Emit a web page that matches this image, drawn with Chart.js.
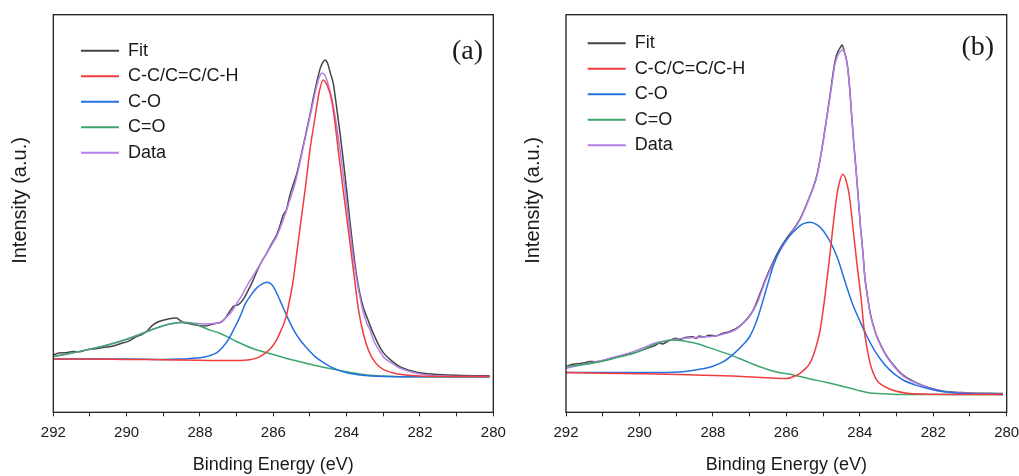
<!DOCTYPE html>
<html><head><meta charset="utf-8">
<script src="https://cdn.jsdelivr.net/npm/chart.js@4.4.0/dist/chart.umd.min.js"></script>
<style>
html,body{margin:0;padding:0;background:#fff;}
#wrap{position:relative;width:1019px;height:476px;overflow:hidden;background:#fff;}
#ca{position:absolute;left:0;top:0;}
#cb{position:absolute;left:510px;top:0;}
</style></head><body>
<div id="wrap"><canvas id="ca" width="510" height="476"></canvas><canvas id="cb" width="509" height="476"></canvas></div>
<script>
// ---- labels ----
const seriesLabels = ['Fit', 'C-C/C=C/C-H', 'C-O', 'C=O', 'Data'];
const panelLabels = ['(a)', '(b)'];
const xTickLabels = [292, 290, 288, 286, 284, 282, 280];
const xTitle = 'Binding Energy (eV)';
const yTitle = 'Intensity (a.u.)';

// ---- panel (a) ----
const aFitE = [292.0,291.85,291.65,291.45,291.28,291.1,290.9,290.64,290.4,290.19,289.95,289.74,289.6,289.46,289.28,289.1,288.95,288.8,288.65,288.55,288.45,288.3,288.15,288.0,287.85,287.7,287.55,287.42,287.3,287.18,287.08,286.95,286.82,286.7,286.58,286.45,286.3,286.18,286.05,285.91,285.8,285.73,285.64,285.55,285.45,285.36,285.27,285.18,285.09,285.0,284.91,284.82,284.72,284.65,284.59,284.52,284.45,284.36,284.27,284.18,284.09,284.0,283.91,283.82,283.73,283.64,283.55,283.45,283.36,283.27,283.13,283.0,282.78,282.55,282.3,282.09,281.8,281.5,281.0,280.5,280.1];
const aFitI = [14.4,14.9,15.0,15.3,15.2,15.7,15.9,16.3,16.6,17.2,17.9,19.0,19.5,20.3,22.0,22.9,23.3,23.6,23.7,23.2,22.6,22.3,22.0,21.8,21.7,22.1,22.4,22.7,23.8,25.5,26.7,27.1,28.4,30.4,32.6,35.4,38.2,40.0,42.3,44.6,47.5,49.6,51.0,54.5,57.5,60.0,63.5,67.2,71.0,74.8,79.0,82.8,86.5,88.0,88.6,87.8,85.5,82.5,76.5,70.2,63.3,55.9,48.0,40.8,34.5,29.9,26.5,24.0,21.8,19.8,17.0,15.0,13.0,11.5,10.6,10.1,9.7,9.5,9.3,9.2,9.2];

const aCCE = [292.0,291.0,290.0,289.0,288.0,287.5,287.0,286.64,286.4,286.23,286.05,285.91,285.78,285.65,285.56,285.47,285.35,285.23,285.11,285.0,284.86,284.75,284.64,284.52,284.41,284.32,284.23,284.12,284.0,283.88,283.77,283.68,283.55,283.4,283.2,283.0,282.7,282.3,281.5,280.1];
const aCCI = [13.4,13.4,13.3,13.2,13.1,13.0,13.0,13.2,13.8,14.8,16.3,18.2,20.8,24.0,28.0,32.4,40.8,49.2,57.6,66.0,74.3,80.5,83.6,82.0,78.5,73.0,66.0,57.8,49.2,40.5,32.4,26.0,20.0,15.5,12.3,10.8,9.8,9.3,9.0,9.0];

const aCOE = [292.0,290.0,289.0,288.5,288.0,287.75,287.54,287.4,287.23,287.07,286.91,286.75,286.6,286.45,286.3,286.18,286.05,285.95,285.82,285.62,285.45,285.27,285.05,284.86,284.65,284.45,284.09,283.64,283.0,282.0,280.1];
const aCOI = [13.4,13.4,13.3,13.4,13.7,14.2,15.0,16.2,18.2,21.0,24.0,27.5,29.6,31.3,32.3,32.7,32.2,30.8,28.2,24.0,20.8,18.2,15.8,14.0,12.6,11.5,10.2,9.4,9.0,8.95,8.95];

const aCdOE = [292.0,291.5,291.1,290.64,290.19,289.74,289.28,288.83,288.55,288.37,288.15,287.92,287.7,287.46,287.23,287.0,286.55,286.18,285.73,285.27,284.82,284.36,283.9,283.45,283.0,282.5,281.0,280.1];
const aCdOI = [14.0,14.9,15.7,16.6,17.8,19.2,20.9,22.2,22.6,22.6,22.2,21.4,20.6,19.9,18.9,17.8,16.0,15.0,13.8,12.7,11.7,10.8,10.0,9.4,9.1,8.95,8.95,8.95];

const aDataE = [292.0,291.55,291.1,290.64,290.19,289.74,289.28,288.83,288.55,288.37,288.15,287.92,287.7,287.46,287.27,287.1,287.0,286.85,286.73,286.6,286.45,286.32,286.18,286.05,285.91,285.82,285.73,285.64,285.55,285.45,285.36,285.27,285.18,285.09,285.0,284.91,284.82,284.75,284.68,284.61,284.54,284.45,284.36,284.27,284.18,284.09,284.0,283.91,283.82,283.73,283.64,283.55,283.45,283.36,283.27,283.13,283.0,282.78,282.55,282.3,282.09,281.64,281.0,280.1];
const aDataI = [14.0,14.8,15.7,16.7,17.8,19.3,20.9,22.2,22.6,22.6,22.4,22.2,22.3,22.6,24.0,25.8,27.4,29.5,31.6,33.6,35.8,37.8,40.0,42.0,44.2,46.2,48.4,50.8,53.4,56.2,59.3,63.0,66.8,70.6,74.3,78.2,81.9,84.2,85.3,85.0,83.6,80.6,76.9,71.8,66.0,59.5,52.6,45.8,39.1,33.6,29.1,25.4,22.4,20.7,18.2,15.8,14.0,12.4,11.1,10.3,9.8,9.2,9.0,9.0];

// ---- panel (b) ----
const bFitE = [292.0,291.85,291.71,291.46,291.35,291.2,290.91,290.7,290.55,290.36,290.19,289.91,289.7,289.55,289.46,289.37,289.2,289.0,288.9,288.75,288.55,288.45,288.37,288.25,288.1,287.92,287.73,287.55,287.4,287.28,287.15,287.01,286.88,286.72,286.55,286.35,286.17,285.99,285.81,285.63,285.5,285.36,285.26,285.17,285.08,284.99,284.9,284.81,284.74,284.67,284.6,284.54,284.48,284.42,284.35,284.3,284.26,284.18,284.08,283.99,283.92,283.86,283.79,283.72,283.63,283.54,283.4,283.27,283.1,282.9,282.7,282.45,282.09,281.73,281.3,280.82,280.5,280.1];
const bFitI = [11.5,12.0,12.2,12.5,12.8,12.7,13.2,13.8,14.0,14.6,14.8,15.7,16.4,16.9,17.4,17.2,18.0,18.6,18.3,18.8,19.0,18.6,19.2,18.9,19.4,19.2,19.9,20.3,20.9,21.6,22.7,24.2,26.1,29.8,33.9,38.0,41.2,43.8,46.0,48.6,51.2,54.4,56.8,59.6,63.7,68.7,74.2,79.8,84.5,88.5,90.6,91.6,92.4,90.6,88.0,84.2,79.6,69.5,58.6,47.7,40.7,33.8,29.2,25.1,21.8,19.2,16.4,14.2,12.1,10.0,8.6,7.4,6.1,5.3,5.0,4.8,4.8,4.7];

const bCCE = [292.0,291.0,290.0,289.28,288.5,287.46,286.55,286.0,285.8,285.63,285.5,285.36,285.27,285.19,285.08,284.95,284.84,284.74,284.63,284.55,284.46,284.38,284.28,284.18,284.08,283.97,283.88,283.8,283.72,283.63,283.54,283.4,283.22,283.0,282.7,282.3,281.5,280.1];
const bCCI = [10.0,9.8,9.7,9.6,9.4,9.1,8.7,8.5,9.0,9.8,10.8,12.3,14.2,16.5,20.7,29.1,37.5,45.9,54.2,58.0,59.9,58.5,54.2,45.9,37.5,29.1,20.7,16.0,12.3,9.8,8.1,6.9,6.0,5.3,4.8,4.6,4.5,4.5];

const bCOE = [292.0,291.0,290.0,289.28,288.82,288.37,288.0,287.7,287.46,287.2,287.0,286.85,286.72,286.53,286.35,286.13,285.93,285.72,285.55,285.36,285.17,284.99,284.8,284.6,284.4,284.2,284.0,283.8,283.6,283.4,283.2,283.0,282.8,282.5,282.2,281.8,281.3,280.8,280.1];
const bCOI = [10.0,10.0,10.0,10.0,10.2,10.8,11.6,12.8,14.5,16.8,19.0,22.0,25.5,31.5,37.0,41.7,44.2,46.2,47.4,47.8,47.2,45.6,42.8,38.6,32.8,27.3,23.0,19.0,15.6,12.9,10.8,9.2,8.0,6.9,6.1,5.3,4.8,4.6,4.5];

const bCdOE = [292.0,291.5,291.09,290.64,290.19,289.85,289.55,289.3,289.1,288.82,288.6,288.37,288.15,287.92,287.46,287.01,286.55,286.2,285.81,285.35,284.9,284.45,284.2,284.0,283.8,283.5,283.0,282.0,280.1];
const bCdOI = [11.5,12.0,12.7,13.7,14.8,16.0,17.2,17.9,18.2,18.0,17.6,17.1,16.4,15.7,14.2,12.5,10.9,10.0,9.4,8.4,7.5,6.5,5.9,5.4,5.0,4.7,4.5,4.5,4.5];

const bDataE = [292.0,291.55,291.09,290.64,290.19,289.85,289.55,289.28,289.0,288.7,288.37,288.15,287.92,287.75,287.55,287.4,287.28,287.15,287.01,286.88,286.78,286.72,286.55,286.35,286.17,285.99,285.81,285.63,285.5,285.36,285.26,285.17,285.08,284.99,284.9,284.81,284.74,284.67,284.6,284.54,284.46,284.4,284.35,284.3,284.26,284.18,284.08,283.99,283.92,283.86,283.79,283.72,283.63,283.54,283.4,283.27,283.1,282.9,282.7,282.45,282.09,281.73,281.3,280.82,280.1];
const bDataI = [11.1,12.0,12.9,14.0,15.2,16.4,17.5,18.0,18.4,18.7,18.9,19.0,19.2,19.6,20.1,20.7,21.5,22.6,24.0,25.9,27.8,29.3,33.5,37.5,40.6,43.3,45.8,48.4,51.0,54.2,56.6,59.3,63.5,68.5,74.0,79.4,83.8,87.8,89.8,90.7,91.1,90.0,87.8,84.0,79.4,69.3,58.4,47.5,40.5,33.6,29.0,24.9,21.6,19.0,16.2,14.0,11.9,9.8,8.4,7.3,6.0,5.2,4.9,4.7,4.5];

// ---- styling ----
const FONT = 'Arial, "Liberation Sans", sans-serif';
const SERIF = '"Times New Roman", "Liberation Serif", serif';
const TXT = '#1a1a1a';
const colors = ['#454545', '#f03c3c', '#2470e0', '#3da56d', '#b57de8'];
const drawOrder = [4, 0, 1, 2, 3];

function pts(E, I) { return E.map((x, i) => ({x: x, y: I[i]})); }

const framePlugin = {
  id: 'frameAndText',
  afterDraw(chart, args, o) {
    const ctx = chart.ctx, a = chart.chartArea;
    ctx.save();
    ctx.strokeStyle = '#1e1e1e';
    ctx.lineWidth = 1.3;
    ctx.strokeRect(a.left, a.top, a.right - a.left, a.bottom - a.top);
    ctx.fillStyle = TXT;
    ctx.textAlign = 'center';
    ctx.textBaseline = 'middle';
    ctx.font = '28px ' + SERIF;
    ctx.fillText(o.panel, o.panelX, o.panelY);
    ctx.translate(o.yTitleX, o.yTitleY);
    ctx.rotate(-Math.PI / 2);
    ctx.font = '20px ' + FONT;
    ctx.fillText(o.yTitle, 0, 0);
    ctx.restore();
  }
};

const legendPlace = {
  id: 'legendPlace',
  afterLayout(chart, args, o) {
    const lg = chart.legend;
    if (!lg) return;
    lg.left = o.left; lg.top = o.top;
    lg.right = o.left + 380; lg.bottom = o.top + 300;
    lg.width = 380; lg.height = 300;
  }
};

function makeChart(id, sets, cfg) {
  const datasets = sets.map((s, i) => ({
    label: seriesLabels[i],
    data: pts(s[0], s[1]),
    borderColor: colors[i],
    backgroundColor: colors[i],
    borderWidth: 1.5,
    pointRadius: 0,
    fill: false,
    order: drawOrder[i],
    cubicInterpolationMode: 'monotone'
  }));
  return new Chart(document.getElementById(id), {
    type: 'line',
    data: {datasets: datasets},
    plugins: [framePlugin, legendPlace],
    options: {
      responsive: false,
      animation: false,
      events: [],
      layout: {padding: {top: cfg.top, right: cfg.right, left: 0, bottom: 0}},
      scales: {
        x: {
          type: 'linear', min: 280, max: 292, reverse: true,
          afterFit(s) { s.height = cfg.xh; s.paddingLeft = 0; s.paddingRight = 0; },
          ticks: {
            stepSize: 1, autoSkip: false, maxRotation: 0, minRotation: 0, padding: 8,
            color: TXT, font: {family: FONT, size: 15},
            callback: (v) => xTickLabels.includes(v) ? String(v) : ''
          },
          grid: {display: true, drawOnChartArea: false, drawTicks: true, tickLength: 4, color: '#222', lineWidth: 1},
          border: {display: false},
          title: {display: true, text: xTitle, color: TXT, font: {family: FONT, size: 18}, padding: {top: 0, bottom: 0}}
        },
        y: {
          type: 'linear', min: 0, max: 100,
          afterFit(s) { s.width = cfg.yw; s.paddingTop = 0; s.paddingBottom = 0; },
          ticks: {display: false},
          grid: {display: false},
          border: {display: false},
          title: {display: false}
        }
      },
      plugins: {
        tooltip: {enabled: false},
        legend: {
          display: true, position: 'chartArea', align: 'start',
          labels: {
            boxWidth: 38, boxHeight: 2, padding: 7.5, color: TXT,
            font: {family: FONT, size: 18},
            generateLabels(chart) {
              return chart.data.datasets.map((d, i) => ({
                text: d.label, fillStyle: d.borderColor, strokeStyle: d.borderColor,
                lineWidth: 0, hidden: false, datasetIndex: i, fontColor: TXT
              }));
            }
          }
        },
        legendPlace: {left: cfg.legL, top: cfg.legT},
        frameAndText: {panel: cfg.panel, panelX: cfg.px, panelY: cfg.py, yTitle: yTitle, yTitleX: cfg.ytx, yTitleY: 200.5}
      }
    }
  });
}

makeChart('ca', [[aFitE, aFitI], [aCCE, aCCI], [aCOE, aCOI], [aCdOE, aCdOI], [aDataE, aDataI]],
  {top: 14.7, right: 16.7, xh: 63.7, yw: 53.3, legL: 73.5, legT: 34.2, panel: panelLabels[0], px: 467.5, py: 52, ytx: 20.5});
makeChart('cb', [[bFitE, bFitI], [bCCE, bCCI], [bCOE, bCOI], [bCdOE, bCdOI], [bDataE, bDataI]],
  {top: 14.7, right: 12.3, xh: 63.7, yw: 56, legL: 70.2, legT: 26.8, panel: panelLabels[1], px: 467.7, py: 47.5, ytx: 23.3});
</script>
</body></html>
